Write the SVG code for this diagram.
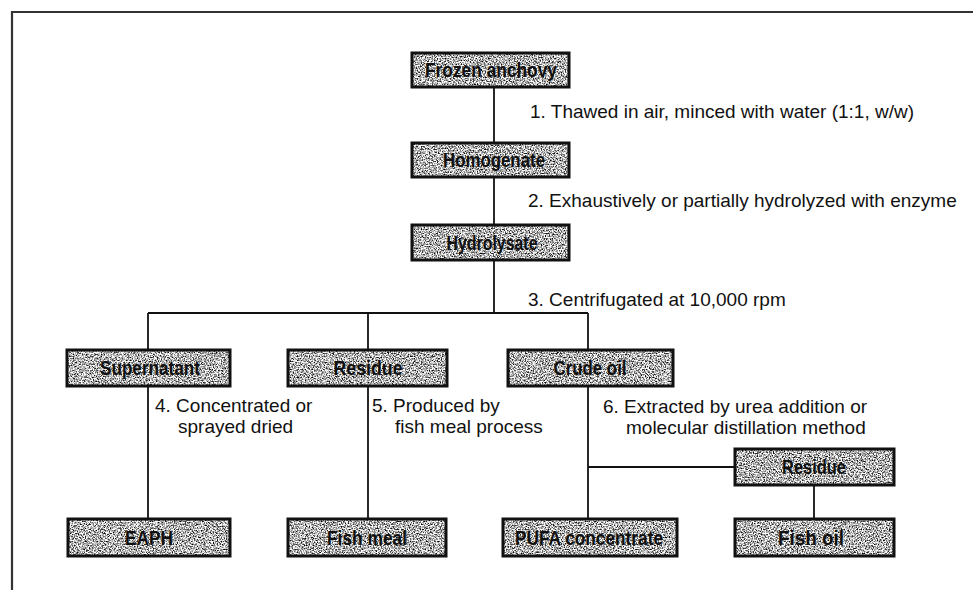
<svg xmlns="http://www.w3.org/2000/svg" width="973" height="590" viewBox="0 0 973 590">
<defs>
<filter id="speckle" x="0" y="0" width="100%" height="100%" color-interpolation-filters="sRGB">
<feTurbulence type="fractalNoise" baseFrequency="0.75" numOctaves="2" seed="7" result="noise"/>
<feColorMatrix in="noise" type="matrix" values="2.6 0 0 0 -0.6  2.6 0 0 0 -0.6  2.6 0 0 0 -0.6  0 0 0 0 1" result="gray"/>
<feComposite in="gray" in2="SourceGraphic" operator="in"/>
</filter>
<style>
.fill{fill:#a0a0a0;filter:url(#speckle);}
.border{fill:none;stroke:#111;stroke-width:3;}
.lbl{font-family:"Liberation Sans",Arial,sans-serif;font-weight:bold;font-size:21px;fill:#111;text-anchor:middle;}
.step{font-family:"Liberation Sans",Arial,sans-serif;font-size:19px;fill:#111;}
.conn line{stroke:#111;stroke-width:1.8;}
.frame{stroke:#333;stroke-width:2.2;fill:none;}
</style>
</defs>
<rect width="973" height="590" fill="#fff"/>
<polyline class="frame" points="12,590 12,12 973,12"/>
<g id="connectors" class="conn">
<line x1="494" y1="87" x2="494" y2="143"/>
<line x1="494" y1="177" x2="494" y2="225"/>
<line x1="494" y1="260" x2="494" y2="313"/>
<line x1="148" y1="313" x2="588" y2="313"/>
<line x1="148" y1="313" x2="148" y2="350"/>
<line x1="368" y1="313" x2="368" y2="350"/>
<line x1="588" y1="313" x2="588" y2="350"/>
<line x1="148" y1="386" x2="148" y2="519"/>
<line x1="368" y1="386" x2="368" y2="519"/>
<line x1="588" y1="386" x2="588" y2="519"/>
<line x1="588" y1="467" x2="735" y2="467"/>
<line x1="814" y1="485" x2="814" y2="519"/>
</g>
<g id="frozen-anchovy">
<rect class="fill" x="412" y="53" width="157" height="34"/>
<rect class="border" x="412" y="53" width="157" height="34"/>
<text class="lbl" x="491" y="77" textLength="132" lengthAdjust="spacingAndGlyphs">Frozen anchovy</text>
</g>
<g id="homogenate">
<rect class="fill" x="412" y="143" width="157" height="34"/>
<rect class="border" x="412" y="143" width="157" height="34"/>
<text class="lbl" x="494" y="167" textLength="102" lengthAdjust="spacingAndGlyphs">Homogenate</text>
</g>
<g id="hydrolysate">
<rect class="fill" x="412" y="225" width="157" height="35"/>
<rect class="border" x="412" y="225" width="157" height="35"/>
<text class="lbl" x="492" y="250" textLength="91" lengthAdjust="spacingAndGlyphs">Hydrolysate</text>
</g>
<g id="supernatant">
<rect class="fill" x="67" y="350" width="163" height="36"/>
<rect class="border" x="67" y="350" width="163" height="36"/>
<text class="lbl" x="150" y="375" textLength="100" lengthAdjust="spacingAndGlyphs">Supernatant</text>
</g>
<g id="residue">
<rect class="fill" x="288" y="350" width="159" height="36"/>
<rect class="border" x="288" y="350" width="159" height="36"/>
<text class="lbl" x="368" y="375" textLength="69" lengthAdjust="spacingAndGlyphs">Residue</text>
</g>
<g id="crude-oil">
<rect class="fill" x="508" y="350" width="165" height="36"/>
<rect class="border" x="508" y="350" width="165" height="36"/>
<text class="lbl" x="590" y="375" textLength="73" lengthAdjust="spacingAndGlyphs">Crude oil</text>
</g>
<g id="residue-2">
<rect class="fill" x="735" y="449" width="159" height="36"/>
<rect class="border" x="735" y="449" width="159" height="36"/>
<text class="lbl" x="814" y="474" textLength="64" lengthAdjust="spacingAndGlyphs">Residue</text>
</g>
<g id="eaph">
<rect class="fill" x="68" y="519" width="162" height="37"/>
<rect class="border" x="68" y="519" width="162" height="37"/>
<text class="lbl" x="149" y="545" textLength="48" lengthAdjust="spacingAndGlyphs">EAPH</text>
</g>
<g id="fish-meal">
<rect class="fill" x="288" y="519" width="158" height="37"/>
<rect class="border" x="288" y="519" width="158" height="37"/>
<text class="lbl" x="367" y="545" textLength="80" lengthAdjust="spacingAndGlyphs">Fish meal</text>
</g>
<g id="pufa-concentrate">
<rect class="fill" x="503" y="519" width="174" height="37"/>
<rect class="border" x="503" y="519" width="174" height="37"/>
<text class="lbl" x="589" y="545" textLength="148" lengthAdjust="spacingAndGlyphs">PUFA concentrate</text>
</g>
<g id="fish-oil">
<rect class="fill" x="735" y="519" width="159" height="37"/>
<rect class="border" x="735" y="519" width="159" height="37"/>
<text class="lbl" x="811" y="545" textLength="66" lengthAdjust="spacingAndGlyphs">Fish oil</text>
</g>
<g id="step-labels">
<text class="step" x="530" y="118">1. Thawed in air, minced with water (1:1, w/w)</text>
<text class="step" x="528" y="207">2. Exhaustively or partially hydrolyzed with enzyme</text>
<text class="step" x="528" y="306">3. Centrifugated at 10,000 rpm</text>
<text class="step" x="155" y="412">4. Concentrated or</text>
<text class="step" x="178" y="433">sprayed dried</text>
<text class="step" x="372" y="412">5. Produced by</text>
<text class="step" x="395" y="433">fish meal process</text>
<text class="step" x="603" y="413">6. Extracted by urea addition or</text>
<text class="step" x="626" y="434">molecular distillation method</text>
</g>
</svg>
